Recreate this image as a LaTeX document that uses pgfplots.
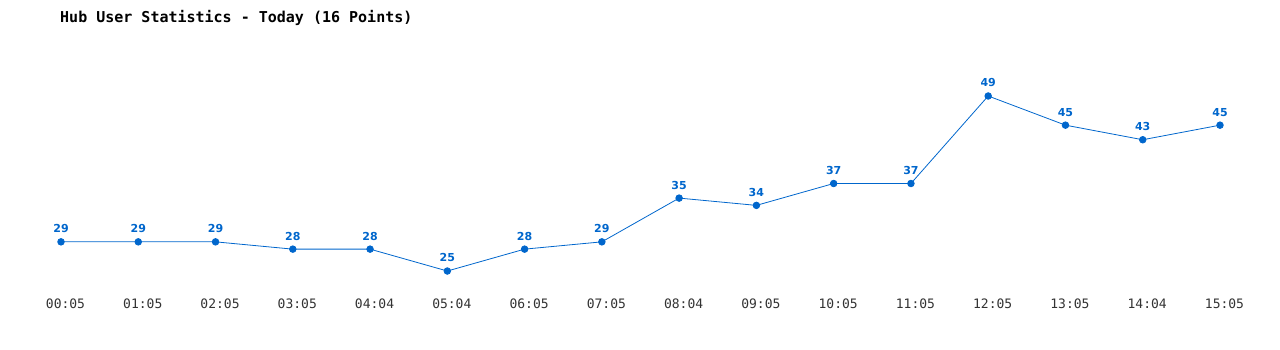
\documentclass[border=0pt]{standalone}
\usepackage{fontspec}
\usepackage{pgfplots}
\pgfplotsset{compat=1.18}
\setmainfont{DejaVu Sans}
\newfontfamily\monofont{DejaVu Sans Mono}
\definecolor{lineblue}{HTML}{0066CC}
\definecolor{textgray}{HTML}{333333}
\begin{document}
\begin{tikzpicture}
\useasboundingbox (0,0) rectangle (1280pt,350pt);
\node[anchor=west, inner sep=0pt, text=black] at (60pt,332pt) {\monofont\bfseries\fontsize{15}{17}\selectfont Hub User Statistics - Today (16 Points)};
\begin{axis}[
  at={(61pt,57.1pt)}, anchor=south west,
  scale only axis, width=1159pt, height=204.2pt,
  xmin=0, xmax=15, ymin=22, ymax=50,
  clip=false,
  axis line style={draw=none},
  tick style={draw=none},
  major tick length=0pt,
  ytick=\empty,
  xtick={0,...,15},
  xticklabels={00:05,01:05,02:05,03:05,04:04,05:04,06:05,07:05,08:04,09:05,10:05,11:05,12:05,13:05,14:04,15:05},
  xticklabel style={font=\monofont\fontsize{13}{15}\selectfont, text=textgray, inner sep=0pt, anchor=north, yshift=-6pt, xshift=4.5pt},
]
\addplot[color=lineblue, line width=0.8pt, mark=*, mark size=3.3pt, mark options={fill=lineblue, draw=lineblue},
  nodes near coords, point meta=explicit symbolic,
  every node near coord/.style={font=\bfseries\fontsize{11}{13}\selectfont, text=lineblue, anchor=south, inner sep=0pt, yshift=8.5pt}]
  table[meta index=1] {
  x y
  0 29
  1 29
  2 29
  3 28
  4 28
  5 25
  6 28
  7 29
  8 35
  9 34
  10 37
  11 37
  12 49
  13 45
  14 43
  15 45
  };
\end{axis}
\end{tikzpicture}
\end{document}
